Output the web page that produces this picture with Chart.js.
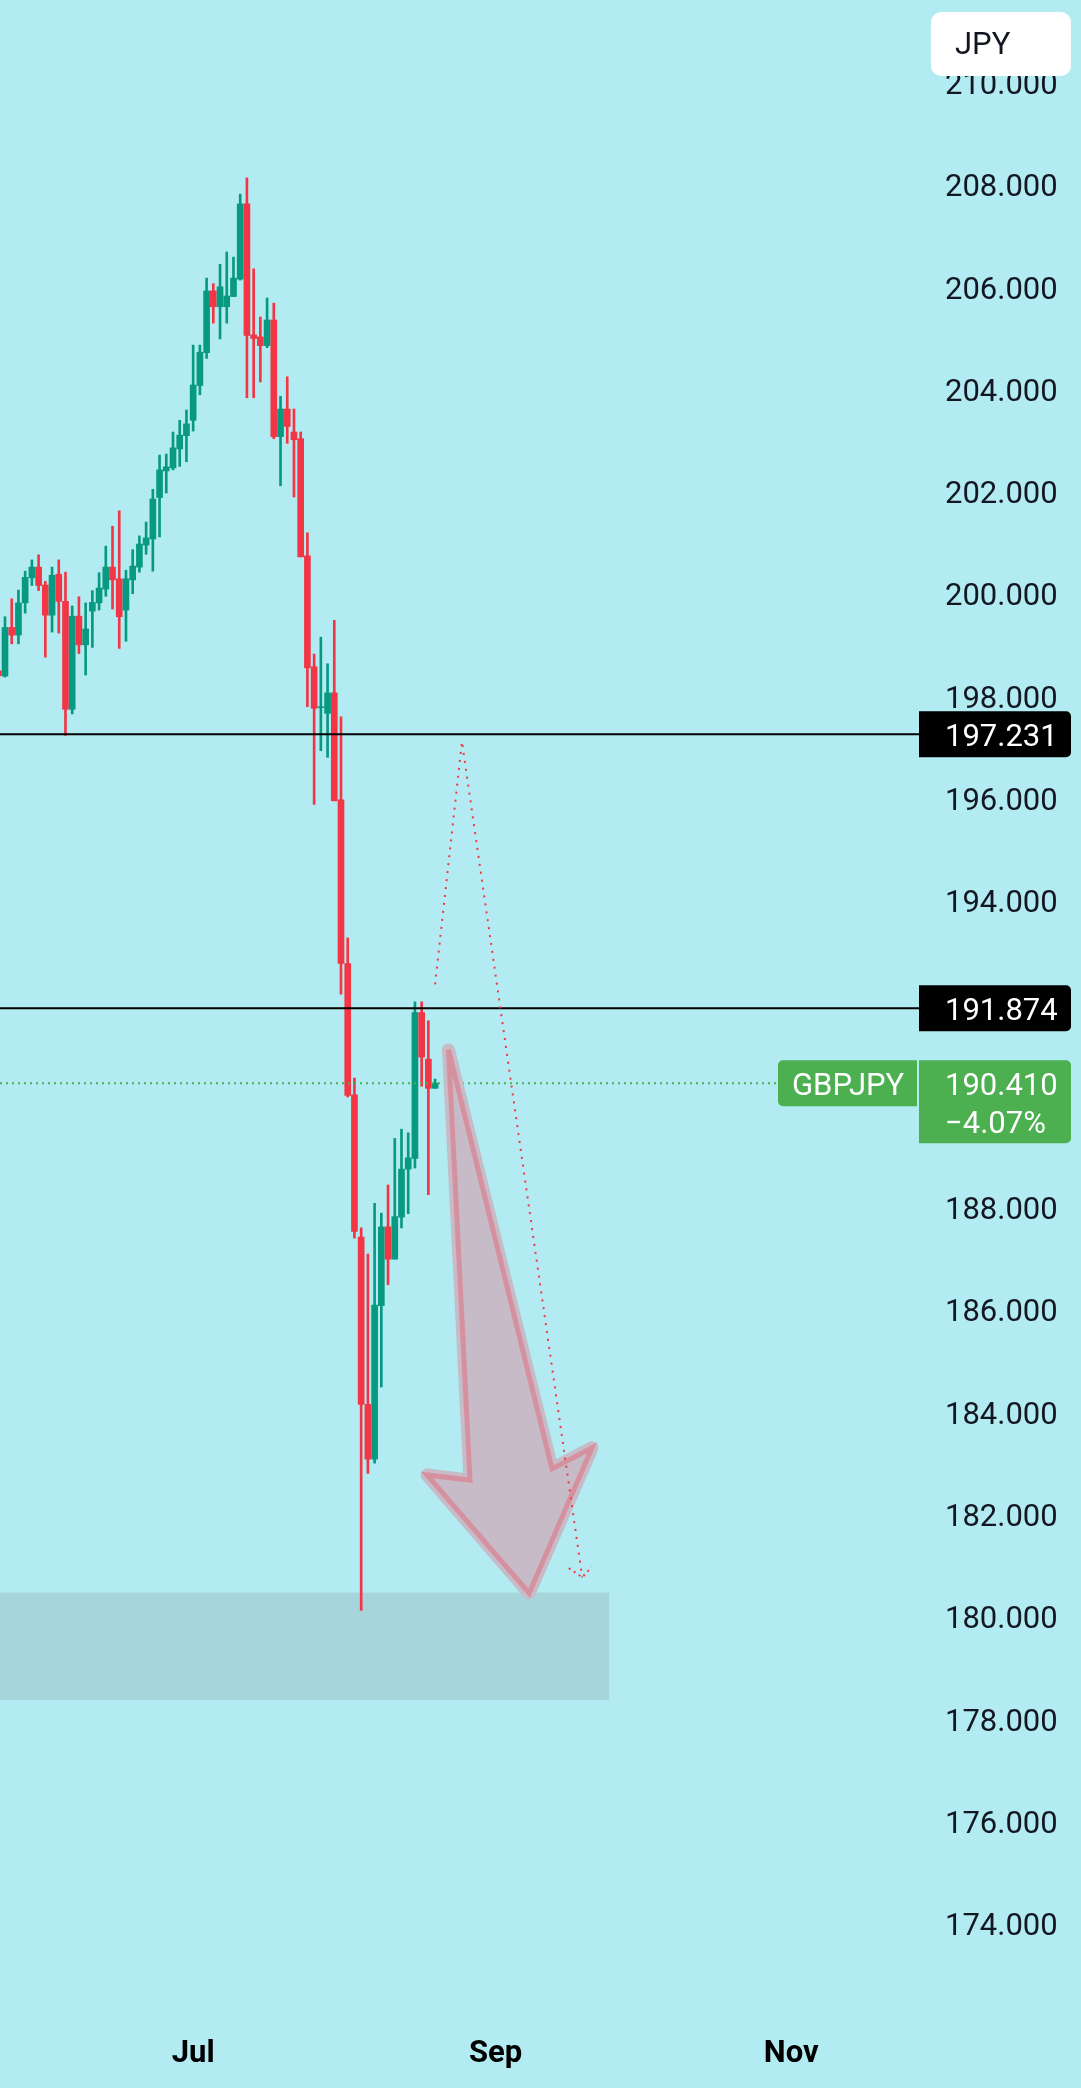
<!DOCTYPE html>
<html>
<head>
<meta charset="utf-8">
<title>GBPJPY</title>
<script src="https://cdn.jsdelivr.net/npm/chart.js@4.4.1/dist/chart.umd.min.js"></script>
<style>
  html, body { margin: 0; padding: 0; background: #b2ebf2; }
  #chart { display: block; background: #b2ebf2; }
</style>
</head>
<body>
<canvas id="chart" width="1081" height="2088"></canvas>
<script>
// daily candles, first one is cut off at the left edge (index -1)
const opens = [198.47, 198.37, 199.32, 199.17, 199.80, 200.29, 200.50, 200.15, 199.56, 200.36,
  199.83, 197.72, 199.54, 198.98, 199.64, 199.80, 200.07, 200.50, 200.27, 199.66,
  200.25, 200.50, 200.93, 201.05, 201.86, 202.38, 202.44, 202.81, 203.07, 203.37,
  204.05, 204.69, 205.90, 205.59, 205.59, 205.79, 206.13, 207.60, 205.04, 205.00,
  204.83, 205.33, 203.05, 203.59, 203.14, 203.01, 200.72, 198.55, 197.75, 197.64,
  198.04, 195.95, 192.75, 190.18, 187.40, 184.13, 183.06, 186.06, 187.60, 186.97,
  187.79, 188.73, 188.94, 191.79, 190.88, 190.31];
const highs = [198.52, 199.53, 199.88, 200.05, 200.42, 200.64, 200.74, 200.22, 200.50, 200.64,
  200.40, 199.74, 199.92, 199.80, 200.04, 200.39, 200.91, 201.30, 201.60, 200.44,
  200.84, 201.11, 201.38, 202.02, 202.69, 202.71, 203.14, 203.37, 203.57, 204.84,
  204.84, 206.15, 206.04, 206.42, 206.66, 206.56, 207.79, 208.11, 206.33, 205.39,
  205.76, 205.66, 203.84, 204.22, 203.59, 203.14, 201.17, 198.80, 199.13, 198.61,
  199.46, 197.57, 193.25, 190.51, 187.58, 187.07, 188.06, 187.87, 188.42, 189.33,
  189.51, 189.44, 192.00, 192.00, 191.63, 190.49];
const lows = [198.30, 198.35, 199.00, 199.00, 199.60, 200.14, 200.04, 198.74, 199.23, 199.21,
  197.21, 197.63, 198.81, 198.39, 198.93, 199.66, 199.93, 199.68, 198.91, 199.05,
  199.98, 200.40, 200.75, 200.42, 201.09, 201.95, 202.40, 202.47, 202.56, 203.16,
  203.87, 204.58, 205.27, 204.96, 205.27, 205.79, 206.11, 203.81, 203.81, 204.12,
  204.79, 203.01, 202.09, 202.92, 201.87, 200.70, 197.77, 195.86, 196.91, 196.78,
  195.93, 192.15, 190.14, 187.38, 180.10, 182.78, 182.98, 184.47, 186.47, 186.97,
  187.58, 187.86, 188.75, 190.35, 188.23, 190.31];
const closes = [198.37, 199.32, 199.17, 199.80, 200.30, 200.50, 200.14, 199.56, 200.34, 199.83,
  197.72, 199.54, 198.98, 199.29, 199.81, 200.09, 200.50, 200.25, 199.53, 200.27,
  200.52, 200.95, 201.07, 201.83, 202.40, 202.46, 202.83, 203.08, 203.30, 204.06,
  204.70, 205.90, 205.59, 205.98, 205.80, 206.15, 207.60, 205.03, 204.97, 204.83,
  205.33, 203.05, 203.59, 203.25, 202.99, 200.70, 198.53, 197.74, 197.77, 198.04,
  195.93, 192.75, 190.17, 187.51, 184.13, 183.06, 186.07, 187.60, 186.97, 187.80,
  188.73, 188.95, 191.79, 190.92, 190.31, 190.41];

const priceTicks = [174, 176, 178, 180, 182, 184, 186, 188, 190, 192,
  194, 196, 198, 200, 202, 204, 206, 208, 210];
const monthTickIdx = [28, 73, 117];
const monthTickLabels = ["Jul", "Sep", "Nov"];

const levelPrices = [197.231, 191.874];
const lastPrice = 190.41;
const lastChange = "\u22124.07%";
const symbol = "GBPJPY";
const currency = "JPY";

// drawings (candle index / price)
const zoneIdx = [-1, 89.9];
const zonePrices = [178.35, 180.45];
const pathIdx = [64.0, 68.0, 85.9];
const pathPrices = [192.34, 197.09, 180.75];
const headIdx = [83.9, 85.9, 87.3];
const headPrices = [180.93, 180.75, 180.95];
const arrowIdx = [66.0, 69.2, 62.8, 78.0, 87.35, 81.4];
const arrowPrices = [191.06, 182.65, 182.75, 180.44, 183.28, 182.87];

const xMin = -0.744, xMax = 136.01;
const yMin = 172.29, yMax = 211.587;

const UP = "#089981";
const DOWN = "#f23645";
const GREEN = "#4caf50";

const colors = opens.map((o, i) => closes[i] >= o ? UP : DOWN);
const bodies = opens.map((o, i) => ({ x: i - 1, y: [o, closes[i]] }));
const wicks = opens.map((o, i) => ({ x: i - 1, y: [lows[i], highs[i]] }));

function pts(xs, ys) {
  return xs.map((v, i) => ({ x: v, y: ys[i] }));
}

function noPad(scale) {
  scale.paddingTop = 0;
  scale.paddingBottom = 0;
  scale.paddingLeft = 0;
  scale.paddingRight = 0;
}

function drawArrow(chart) {
  const { ctx, scales } = chart;
  ctx.save();
  ctx.beginPath();
  arrowIdx.forEach((v, i) => {
    const px = scales.x.getPixelForValue(v);
    const py = scales.y.getPixelForValue(arrowPrices[i]);
    if (i === 0) ctx.moveTo(px, py); else ctx.lineTo(px, py);
  });
  ctx.closePath();
  ctx.fillStyle = "rgb(198,187,199)";
  ctx.fill();
  ctx.lineJoin = "round";
  ctx.lineWidth = 13;
  ctx.strokeStyle = "rgb(198,187,199)";
  ctx.stroke();
  ctx.lineJoin = "miter";
  ctx.lineWidth = 5;
  ctx.strokeStyle = "rgb(213,145,160)";
  ctx.stroke();
  ctx.restore();
}

const drawings = {
  id: "drawings",
  beforeDatasetsDraw(chart) {
    const { ctx, scales } = chart;
    const x0 = scales.x.getPixelForValue(zoneIdx[0]);
    const x1 = scales.x.getPixelForValue(zoneIdx[1]);
    const y0 = scales.y.getPixelForValue(zonePrices[1]);
    const y1 = scales.y.getPixelForValue(zonePrices[0]);
    ctx.save();
    ctx.fillStyle = "#a6d5dc";
    ctx.fillRect(x0, y0, x1 - x0, y1 - y0);
    ctx.restore();
  },
  afterDatasetDraw(chart, args) {
    // arrow sits above the price line but under the dotted path
    if (args.meta.label === "last") drawArrow(chart);
  },
  afterDraw(chart) {
    const { ctx, chartArea } = chart;
    const yS = chart.scales.y;
    const right = chartArea.right;
    ctx.save();
    ctx.font = "31px Roboto";
    ctx.textAlign = "left";
    ctx.textBaseline = "middle";

    levelPrices.forEach((p) => {
      const cy = yS.getPixelForValue(p);
      ctx.fillStyle = "#000";
      ctx.beginPath();
      ctx.roundRect(right, cy - 23, 152, 46, [0, 5, 5, 0]);
      ctx.fill();
      ctx.fillStyle = "#fff";
      ctx.fillText(p.toFixed(3), right + 26, cy + 4);
    });

    const cy = yS.getPixelForValue(lastPrice);
    ctx.fillStyle = GREEN;
    ctx.beginPath();
    ctx.roundRect(right, cy - 23, 152, 83, [0, 5, 5, 0]);
    ctx.fill();
    ctx.beginPath();
    ctx.roundRect(right - 141, cy - 23, 139, 46, [5, 0, 0, 5]);
    ctx.fill();
    ctx.fillStyle = "#fff";
    ctx.fillText(lastPrice.toFixed(3), right + 26, cy + 4);
    ctx.fillText(lastChange, right + 26, cy + 42);
    ctx.fillText(symbol, right - 127, cy + 4);

    ctx.fillStyle = "#fff";
    ctx.beginPath();
    ctx.roundRect(931, 12, 140, 64, 10);
    ctx.fill();
    ctx.fillStyle = "#131722";
    ctx.fillText(currency, 955, 46);
    ctx.restore();
  }
};

new Chart(document.getElementById("chart"), {
  type: "bar",
  data: {
    datasets: [
      {
        label: "bodies",
        data: bodies,
        backgroundColor: colors,
        barThickness: 6,
        minBarLength: 1,
        grouped: false,
        order: 5
      },
      {
        label: "wicks",
        data: wicks,
        backgroundColor: colors,
        barThickness: 2,
        grouped: false,
        order: 6
      },
      {
        type: "line",
        label: "level1",
        data: pts([xMin, xMax], [levelPrices[0], levelPrices[0]]),
        borderColor: "#000",
        borderWidth: 2,
        pointRadius: 0,
        order: 4
      },
      {
        type: "line",
        label: "level2",
        data: pts([xMin, xMax], [levelPrices[1], levelPrices[1]]),
        borderColor: "#000",
        borderWidth: 2,
        pointRadius: 0,
        order: 4
      },
      {
        type: "line",
        label: "last",
        data: pts([xMin, 115.0], [lastPrice, lastPrice]),
        borderColor: GREEN,
        borderWidth: 2,
        borderDash: [2, 4],
        pointRadius: 0,
        order: 3
      },
      {
        type: "line",
        label: "path",
        data: pts(pathIdx, pathPrices),
        borderColor: DOWN,
        borderWidth: 2,
        borderDash: [2, 6],
        pointRadius: 0,
        order: 1
      },
      {
        type: "line",
        label: "head",
        data: pts(headIdx, headPrices),
        borderColor: DOWN,
        borderWidth: 2,
        borderDash: [2, 4],
        pointRadius: 0,
        order: 1
      }
    ]
  },
  options: {
    responsive: false,
    animation: false,
    devicePixelRatio: 1,
    layout: { padding: 0, autoPadding: false },
    plugins: { legend: { display: false }, tooltip: { enabled: false } },
    scales: {
      x: {
        type: "linear",
        min: xMin,
        max: xMax,
        offset: false,
        grid: { display: false, drawTicks: false },
        border: { display: false },
        afterBuildTicks: (scale) => {
          scale.ticks = monthTickIdx.map((v) => ({ value: v }));
        },
        afterFit: (scale) => { scale.height = 78; noPad(scale); },
        ticks: {
          autoSkip: false,
          maxRotation: 0,
          padding: 26,
          color: "#000",
          font: { family: "Roboto", size: 31, weight: "bold" },
          callback: (v) => monthTickLabels[monthTickIdx.indexOf(v)]
        }
      },
      y: {
        type: "linear",
        position: "right",
        min: yMin,
        max: yMax,
        grid: { display: false, drawTicks: false },
        border: { display: false },
        afterBuildTicks: (scale) => {
          scale.ticks = priceTicks.map((v) => ({ value: v }));
        },
        afterFit: (scale) => { scale.width = 162; noPad(scale); },
        ticks: {
          autoSkip: false,
          padding: 26,
          labelOffset: 5,
          color: "#131722",
          font: { family: "Roboto", size: 31 },
          callback: (v) => v.toFixed(3)
        }
      }
    }
  },
  plugins: [drawings]
});
</script>
</body>
</html>
